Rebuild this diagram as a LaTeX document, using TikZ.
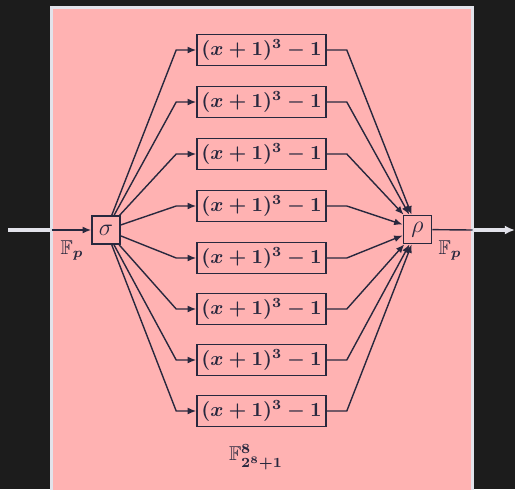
\documentclass[tikz,border=0pt]{standalone}
\usepackage{amsmath,amssymb}
\usepackage{tikz}
\usetikzlibrary{arrows.meta,positioning,calc}
\definecolor{darkBack}{RGB}{28,28,28}
\definecolor{pinkFill}{RGB}{255,178,178}
\definecolor{frameGray}{RGB}{226,226,234}
\definecolor{inkNavy}{RGB}{40,40,62}
\tikzset{
  mapbox/.style={draw=inkNavy, thick, fill=pinkFill, text=inkNavy, minimum width=64.5pt, minimum height=15.5pt, inner sep=1pt, font=\boldmath},
  permbox/.style={draw=inkNavy, thick, fill=pinkFill, text=inkNavy, minimum width=14pt, minimum height=14pt, inner sep=1pt, font=\large},
  arrow/.style={-{Latex[length=1.5mm,width=1.2mm]}, draw=inkNavy, line width=0.7pt},
  wire/.style={draw=inkNavy, line width=0.7pt},
  outwire/.style={draw=frameGray, line width=1.8pt},
  outarrow/.style={-{Latex[length=1.8mm,width=1.6mm]}, draw=frameGray, line width=1.8pt},
  lbl/.style={text=inkNavy, font=\boldmath}
}

\begin{document}
\begin{tikzpicture}[x=0.5pt,y=-0.5pt]
  \fill[darkBack] (0,0) rectangle (515,489);
  \useasboundingbox (0,0) rectangle (515,489);
  \begin{scope}
    \clip (0,0) rectangle (515,489);
    \draw[frameGray, line width=1.5pt, fill=pinkFill] (51.5,7.5) rectangle (472.5,500);
  \end{scope}

  \node[permbox] (sigma) at (106,230) {$\sigma$};
  \node[permbox] (rho) at (417.5,229.5) {$\rho$};

  \node[mapbox] (map1) at (261.5,50) {$(x+1)^3-1$};
  \node[mapbox] (map2) at (261.5,102) {$(x+1)^3-1$};
  \node[mapbox] (map3) at (261.5,154) {$(x+1)^3-1$};
  \node[mapbox] (map4) at (261.5,206) {$(x+1)^3-1$};
  \node[mapbox] (map5) at (261.5,258) {$(x+1)^3-1$};
  \node[mapbox] (map6) at (261.5,309) {$(x+1)^3-1$};
  \node[mapbox] (map7) at (261.5,360) {$(x+1)^3-1$};
  \node[mapbox] (map8) at (261.5,411) {$(x+1)^3-1$};

  \node[lbl] (fpin) at (72,250) {$\mathbb{F}_{p}$};
  \node[lbl] (fpout) at (450,250) {$\mathbb{F}_{p}$};
  \node[lbl] (fstate) at (256,457) {$\mathbb{F}^{8}_{2^{8}+1}$};

  % input and output
  \coordinate (inL) at (8,230);
  \coordinate (edgeL) at (51.5,230);
  \coordinate (edgeR) at (472.5,230);
  \coordinate (outR) at (515,230);
  \draw[outwire] (inL) -- (edgeL);
  \draw[arrow] (edgeL) -- (sigma);
  \draw[wire] (rho) -- (edgeR);
  \draw[outarrow] (edgeR) -- (outR);

  % fan out
  \draw[arrow] (sigma) -- ($(map1.west)+(-20,0)$) -- (map1.west);
  \draw[arrow] (sigma) -- ($(map2.west)+(-20,0)$) -- (map2.west);
  \draw[arrow] (sigma) -- ($(map3.west)+(-20,0)$) -- (map3.west);
  \draw[arrow] (sigma) -- ($(map4.west)+(-20,0)$) -- (map4.west);
  \draw[arrow] (sigma) -- ($(map5.west)+(-20,0)$) -- (map5.west);
  \draw[arrow] (sigma) -- ($(map6.west)+(-20,0)$) -- (map6.west);
  \draw[arrow] (sigma) -- ($(map7.west)+(-20,0)$) -- (map7.west);
  \draw[arrow] (sigma) -- ($(map8.west)+(-20,0)$) -- (map8.west);

  % fan in
  \draw[arrow] (map1.east) -- ++(20,0) -- (rho);
  \draw[arrow] (map2.east) -- ++(20,0) -- (rho);
  \draw[arrow] (map3.east) -- ++(20,0) -- (rho);
  \draw[arrow] (map4.east) -- ++(20,0) -- (rho);
  \draw[arrow] (map5.east) -- ++(20,0) -- (rho);
  \draw[arrow] (map6.east) -- ++(20,0) -- (rho);
  \draw[arrow] (map7.east) -- ++(20,0) -- (rho);
  \draw[arrow] (map8.east) -- ++(20,0) -- (rho);
\end{tikzpicture}
\end{document}
